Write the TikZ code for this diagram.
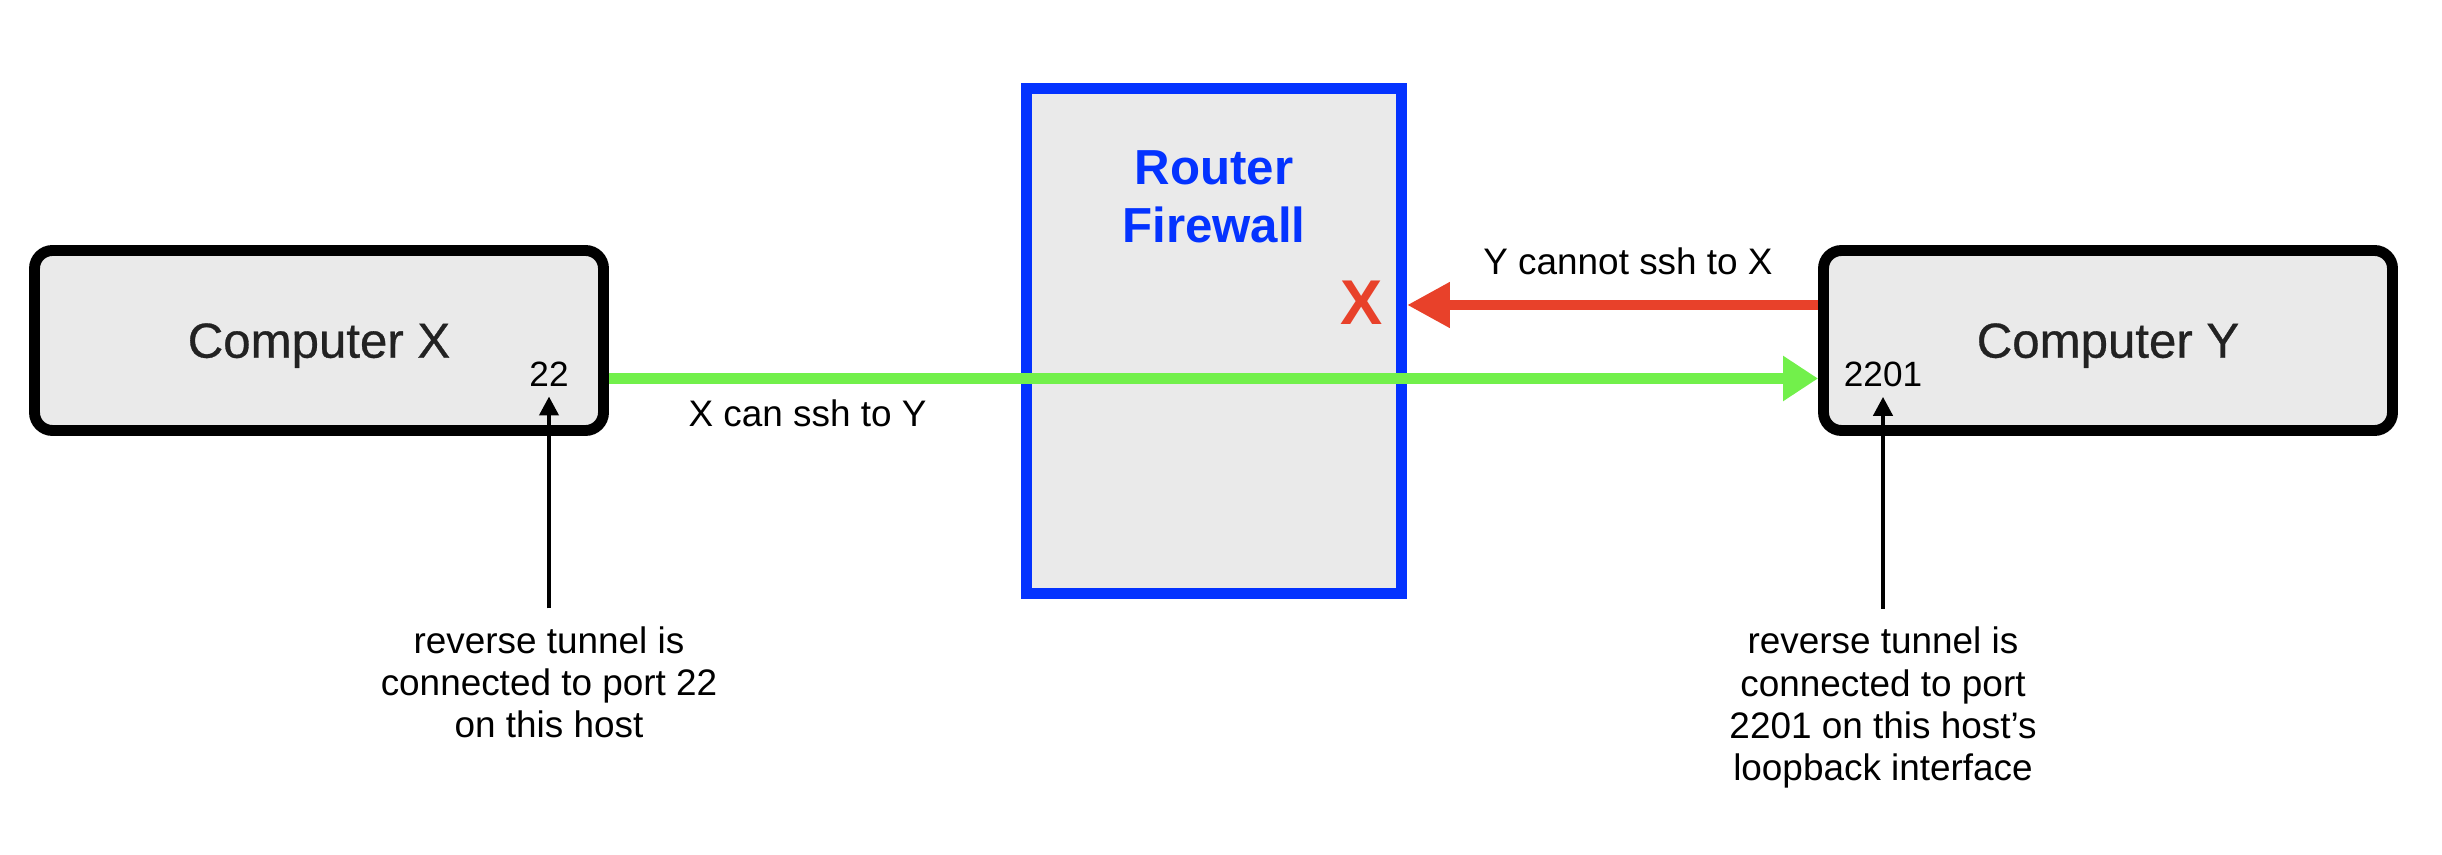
\documentclass[tikz,border=0pt]{standalone}
\usepackage{fontspec}
\setmainfont{Liberation Sans}
\newfontfamily\hostfont{Liberation Sans}[UprightFeatures={FakeBold=0.6}]
\usetikzlibrary{arrows.meta, positioning}
\definecolor{hostgray}{HTML}{EAEAEA}
\definecolor{hosttext}{HTML}{222222}
\definecolor{wallblue}{HTML}{0433FF}
\definecolor{blockred}{HTML}{E8412A}
\definecolor{passgreen}{HTML}{72F04B}

\begin{document}
\begin{tikzpicture}[font=\fontsize{10.5}{12}\selectfont,
	host/.style={draw=black, fill=hostgray, line width=3.1pt, rounded corners=0.18cm, minimum width=5.69cm, minimum height=1.8cm, inner sep=0pt, text depth=0pt, text=hosttext, font=\hostfont\fontsize{14}{16}\selectfont},
	wall/.style={draw=wallblue, fill=hostgray, line width=3.1pt, minimum width=3.75cm, minimum height=5.05cm},
	port/.style={inner sep=2.5pt, font=\fontsize{10}{12}\selectfont},
	note/.style={align=center, inner sep=5pt},
	pointer/.style={-{Triangle[length=0.19cm, width=0.19cm]}, line width=1.2pt}]
	\useasboundingbox (0,0) rectangle (24.42,8.54);
	\node[wall] (fw) at (12.14,5.13) {};
	\node[below=0.67cm of fw.north, inner sep=0pt, align=center, text=wallblue, font=\fontsize{14}{16.5}\selectfont\bfseries] (fwlbl) {Router\\Firewall};
	\node[inner sep=0pt, text=blockred, font=\fontsize{18}{20}\selectfont\bfseries] (xmark) at (13.62,5.51) {X};
	\foreach \n/\x/\lbl in {compX/3.19/Computer X, compY/21.08/Computer Y} {
		\node[host] (\n) at (\x,5.135) {\lbl};
	}
	\draw[-{Triangle[length=0.35cm, width=0.43cm]}, passgreen, line width=3.1pt] ([yshift=-3.8mm]compX.east) -- ([yshift=-3.8mm]compY.west);
	\draw[-{Triangle[length=0.43cm, width=0.43cm]}, blockred, line width=3.1pt] ([yshift=3.55mm]compY.west) -- ([yshift=3.55mm]compY.west -| fw.east);
	\node[anchor=base] (canlbl) at (8.075,4.27) {X can ssh to Y};
	\node[anchor=base] (cantlbl) at (16.28,5.79) {Y cannot ssh to X};
	\node[port, anchor=base] (portX) at (5.49,4.67) {22};
	\node[port, anchor=base] (portY) at (18.83,4.67) {2201};
	\node[note, below=2.12cm of portX.south] (noteX) {reverse tunnel is\\connected to port 22\\on this host};
	\node[note, below=2.12cm of portY.south] (noteY) {reverse tunnel is\\connected to port\\2201 on this host’s\\loopback interface};
	\draw[pointer] (noteX.north) -- (portX.south);
	\draw[pointer] (noteY.north) -- (portY.south);
\end{tikzpicture}
\end{document}
